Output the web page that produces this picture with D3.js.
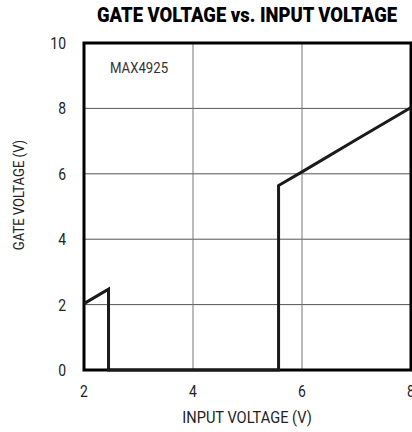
<!DOCTYPE html>
<html><head><meta charset="utf-8">
<script src="https://cdn.jsdelivr.net/npm/d3@7"></script>
<style>body{margin:0;background:#fff}</style>
</head><body>
<svg id="c" width="412" height="432"></svg>
<script>
const inputVoltage = [2.0, 2.45, 2.45, 5.57, 5.57, 6.0, 7.0, 8.0];
const gateVoltage  = [2.03, 2.47, 0.0, 0.0, 5.64, 6.06, 7.05, 8.03];
const xTicks = [2, 4, 6, 8];
const yTicks = [0, 2, 4, 6, 8, 10];
const title = "GATE VOLTAGE vs. INPUT VOLTAGE";
const xLabel = "INPUT VOLTAGE (V)";
const yLabel = "GATE VOLTAGE (V)";
const note = "MAX4925";

const svg = d3.select("#c");
const L = 84, R = 411, T = 43, B = 370;
const x = d3.scaleLinear().domain([2, 8]).range([L, R]);
const y = d3.scaleLinear().domain([0, 10]).range([B, T]);
const font = "Roboto, sans-serif";

// grid
svg.append("g").selectAll("line").data(yTicks.filter(d => d > 0 && d < 10)).join("line")
  .attr("x1", L).attr("x2", R).attr("y1", d => y(d)).attr("y2", d => y(d))
  .attr("stroke", "#555").attr("stroke-width", 1);
svg.append("g").selectAll("line").data(xTicks.filter(d => d > 2 && d < 8)).join("line")
  .attr("y1", T).attr("y2", B).attr("x1", d => x(d)).attr("x2", d => x(d))
  .attr("stroke", "#777").attr("stroke-width", 1);

// frame
svg.append("rect").attr("x", L).attr("y", T).attr("width", R - L).attr("height", B - T)
  .attr("fill", "none").attr("stroke", "#000").attr("stroke-width", 3);

// data
const pts = inputVoltage.map((v, i) => [v, gateVoltage[i]]);
svg.append("path").datum(pts)
  .attr("d", d3.line().x(d => x(d[0])).y(d => y(d[1])))
  .attr("fill", "none").attr("stroke", "#1a1a1a").attr("stroke-width", 3)
  .attr("stroke-linejoin", "miter");

// condensed text helper
function ctext(px, py, str, size, anchor, sx, color, weight, rot) {
  const g = svg.append("g").attr("transform", `translate(${px},${py})${rot ? " rotate(" + rot + ")" : ""} scale(${sx},1)`);
  return g.append("text").attr("x", 0).attr("y", 0).attr("text-anchor", anchor)
    .attr("font-family", font).attr("font-size", size).attr("fill", color)
    .attr("font-weight", weight || "normal").text(str);
}

// tick labels
xTicks.forEach(d => ctext(x(d), 397, d, 17, "middle", 0.82, "#222"));
yTicks.forEach(d => ctext(66, y(d) + 6, d, 17, "end", 0.82, "#222"));

// axis labels
ctext(247, 423, xLabel, 17, "middle", 0.86, "#222");
ctext(24, 195, yLabel, 15, "middle", 0.87, "#222", "normal", -90);

// note
ctext(110, 73, note, 15.5, "start", 0.85, "#333");

// title
svg.append("text").attr("x", 247).attr("y", 22).attr("text-anchor", "middle")
  .attr("font-family", font).attr("font-weight", 900).attr("font-size", 20)
  .attr("fill", "#000").attr("textLength", 300).attr("lengthAdjust", "spacingAndGlyphs").text(title);
</script>
</body></html>
